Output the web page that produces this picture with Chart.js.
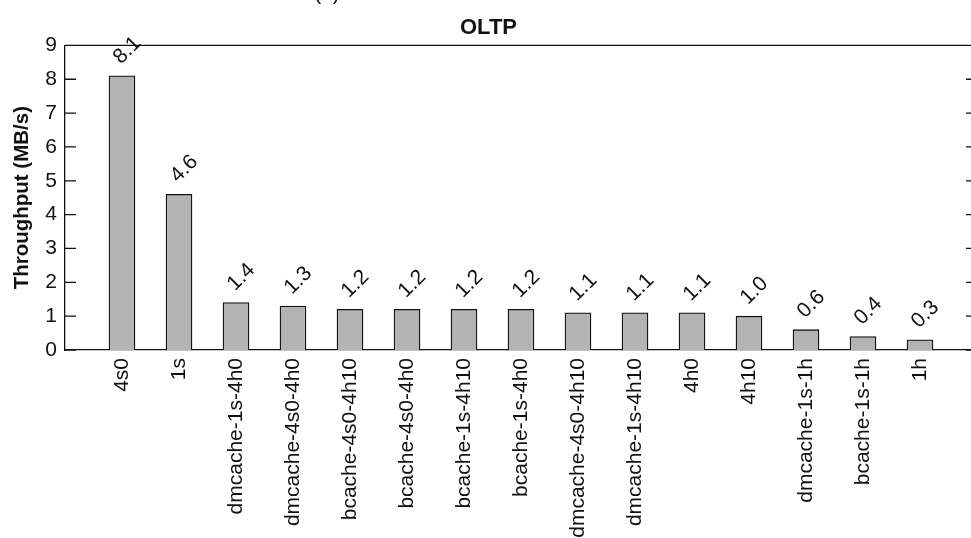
<!DOCTYPE html>
<html>
<head>
<meta charset="utf-8">
<script src="https://cdn.jsdelivr.net/npm/chart.js@4.4.1/dist/chart.umd.min.js"></script>
<style>
  html, body { margin: 0; padding: 0; background: #fff; overflow: hidden; }
  #wrap { width: 990px; height: 538px; }
</style>
</head>
<body>
<div id="wrap"><canvas id="c" width="990" height="538"></canvas></div>
<script>
// Configurations, in plotted order
const categories = [
  '4s0', '1s', 'dmcache-1s-4h0', 'dmcache-4s0-4h0', 'bcache-4s0-4h10',
  'bcache-4s0-4h0', 'bcache-1s-4h10', 'bcache-1s-4h0', 'dmcache-4s0-4h10',
  'dmcache-1s-4h10', '4h0', '4h10', 'dmcache-1s-1h', 'bcache-1s-1h', '1h'
];
// Throughput in MB/s
const throughput = [8.1, 4.6, 1.4, 1.3, 1.2, 1.2, 1.2, 1.2, 1.1, 1.1, 1.1, 1.0, 0.6, 0.4, 0.3];
const yTicks = [0, 1, 2, 3, 4, 5, 6, 7, 8, 9];

const FONT = 'Liberation Sans, Arial, Helvetica, sans-serif';
const INK = '#111';

// Frame on top/right, inward tick marks on both sides, rotated value labels
const framePlugin = {
  id: 'frame',
  afterDatasetsDraw(chart) {
    const { ctx, chartArea: a, scales } = chart;
    const y = scales.y;
    ctx.save();
    ctx.strokeStyle = INK;
    ctx.lineWidth = 1.3;
    ctx.beginPath();
    ctx.moveTo(a.left, a.top); ctx.lineTo(a.right, a.top);
    ctx.moveTo(a.right, a.top); ctx.lineTo(a.right, a.bottom);
    y.ticks.forEach(t => {
      const py = y.getPixelForValue(t.value);
      ctx.moveTo(a.left, py); ctx.lineTo(a.left + 11, py);
      ctx.moveTo(a.right - 11, py); ctx.lineTo(a.right, py);
    });
    ctx.stroke();

    // value labels above each bar
    const meta = chart.getDatasetMeta(0);
    ctx.fillStyle = INK;
    ctx.font = '21px ' + FONT;
    ctx.textAlign = 'left';
    ctx.textBaseline = 'alphabetic';
    meta.data.forEach((bar, i) => {
      ctx.save();
      ctx.translate(bar.x - 1, bar.y - 11);
      ctx.rotate(-Math.PI / 4);
      ctx.fillText(throughput[i].toFixed(1), 0, 0);
      ctx.restore();
    });

    // sub-figure tag
    ctx.textAlign = 'center';
    ctx.fillText('(a)', 327, -0.5);
    ctx.restore();
  }
};

new Chart(document.getElementById('c'), {
  type: 'bar',
  data: {
    datasets: [{
      data: throughput.map((v, i) => ({ x: i + 1, y: v })),
      backgroundColor: '#b3b3b3',
      borderColor: INK,
      borderWidth: 1.3,
      barThickness: 26
    }]
  },
  options: {
    responsive: false,
    animation: false,
    layout: { padding: { left: 0, right: 13, top: 0, bottom: 0 } },
    plugins: {
      legend: { display: false },
      tooltip: { enabled: false },
      title: {
        display: true,
        text: 'OLTP',
        color: INK,
        font: { family: FONT, size: 22, weight: 'bold' },
        padding: { top: 15, bottom: 4 }
      }
    },
    scales: {
      x: {
        type: 'linear',
        min: 0,
        max: categories.length + 1,
        offset: false,
        grid: { display: false, drawTicks: false },
        border: { display: true, color: INK, width: 1.3 },
        afterBuildTicks(scale) {
          scale.ticks = categories.map((c, i) => ({ value: i + 1 }));
        },
        afterFit(scale) { scale.height = 188; },
        ticks: {
          autoSkip: false,
          maxRotation: 90,
          minRotation: 90,
          padding: 8,
          color: INK,
          font: { family: FONT, size: 21 },
          callback: v => categories[v - 1]
        }
      },
      y: {
        min: 0,
        max: 9,
        grid: { display: false, drawTicks: false },
        border: { display: true, color: INK, width: 1.3 },
        afterBuildTicks(scale) {
          scale.ticks = yTicks.map(v => ({ value: v }));
        },
        afterFit(scale) { scale.width = 65; },
        ticks: {
          padding: 8,
          color: INK,
          font: { family: FONT, size: 21 }
        },
        title: {
          display: true,
          text: 'Throughput (MB/s)',
          color: INK,
          font: { family: FONT, size: 20.5, weight: 'bold' },
          padding: { top: 10, bottom: 0 }
        }
      }
    }
  },
  plugins: [framePlugin]
});
</script>
</body>
</html>
